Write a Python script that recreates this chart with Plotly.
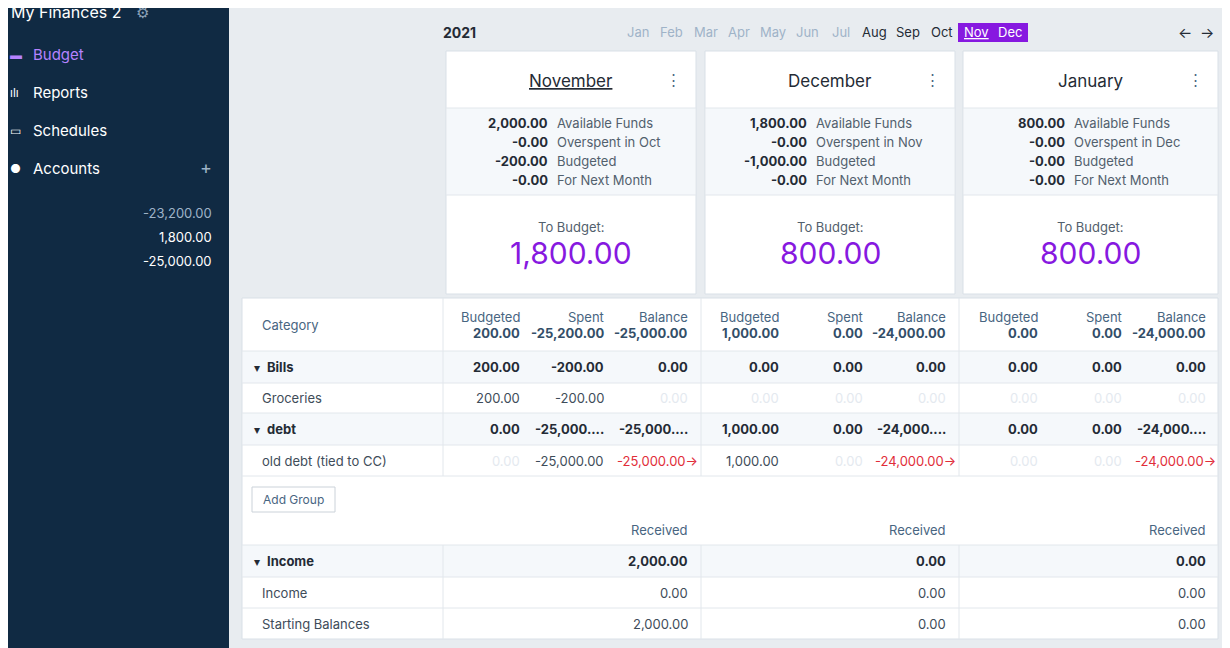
import plotly.graph_objects as go

# ---- data ----
budget_name = "My Finances 2"
nav_items = ["Budget", "Reports", "Schedules", "Accounts"]
account_names = ["For budget", "checking", "Credit Card"]
account_balances = ["-23,200.00", "1,800.00", "-25,000.00"]

year = "2021"
nav_months = ["Jan", "Feb", "Mar", "Apr", "May", "Jun", "Jul", "Aug", "Sep", "Oct", "Nov", "Dec"]

months = ["November", "December", "January"]
available_funds = ["2,000.00", "1,800.00", "800.00"]
overspent_prev = ["Oct", "Nov", "Dec"]
overspent = ["-0.00", "-0.00", "-0.00"]
budgeted_total = ["-200.00", "-1,000.00", "-0.00"]
for_next = ["-0.00", "-0.00", "-0.00"]
to_budget = ["1,800.00", "800.00", "800.00"]

head_budgeted = ["200.00", "1,000.00", "0.00"]
head_spent = ["-25,200.00", "0.00", "0.00"]
head_balance = ["-25,000.00", "-24,000.00", "-24,000.00"]

rows = ["Bills", "Groceries", "debt", "old debt (tied to CC)"]
row_is_group = [True, False, True, False]
row_budgeted = [["200.00", "200.00", "0.00", "0.00"],
                ["0.00", "0.00", "1,000.00", "1,000.00"],
                ["0.00", "0.00", "0.00", "0.00"]]
row_spent = [["-200.00", "-200.00", "-25,000....", "-25,000.00"],
             ["0.00", "0.00", "0.00", "0.00"],
             ["0.00", "0.00", "0.00", "0.00"]]
row_balance = [["0.00", "0.00", "-25,000....", "-25,000.00"],
               ["0.00", "0.00", "-24,000....", "-24,000.00"],
               ["0.00", "0.00", "-24,000....", "-24,000.00"]]

income_rows = ["Income", "Income", "Starting Balances"]
income_received = [["2,000.00", "0.00", "2,000.00"],
                   ["0.00", "0.00", "0.00"],
                   ["0.00", "0.00", "0.00"]]

# ---- styles ----
FONT = "Inter, Noto Sans, sans-serif"
SIDEBAR = "#102a43"
BG = "#e8ecf0"
DARK = "#242b35"
LABEL = "#486581"
FAINT = "#e4e9ef"
PURPLE = "#8719e0"
RED = "#e12d39"
BAND = "#f5f8fb"
LINE = "#e2e7ec"

# the page puts the plot 8px in from the top-left, so the axes are shifted by that much
OFF = 8

fig = go.Figure()
shapes = []
ann = []


def rect(x0, y0, x1, y1, fill, line=None):
    shapes.append(dict(type="rect", x0=x0, y0=y0, x1=x1, y1=y1, fillcolor=fill,
                       line=dict(color=line or fill, width=1 if line else 0), layer="below"))


def hline(x0, x1, y, color=LINE):
    shapes.append(dict(type="line", x0=x0, x1=x1, y0=y, y1=y, line=dict(color=color, width=1)))


def vline(x, y0, y1, color=LINE):
    shapes.append(dict(type="line", x0=x, x1=x, y0=y0, y1=y1, line=dict(color=color, width=1)))


def text(x, y, s, size=13, color=DARK, anchor="left", bold=False):
    if bold:
        s = "<b>" + s + "</b>"
    ann.append(dict(x=x, y=y, text=s, showarrow=False, xanchor=anchor, yanchor="middle",
                    font=dict(family=FONT, size=size, color=color)))


# background + sidebar
rect(0, 0, 1240, 660, BG)
rect(0, 0, 229, 660, SIDEBAR)
text(9, 12, budget_name, 16, "white")
text(134, 12, "⚙", 15, "#8da2b8")
nav_y = [54, 92, 130, 168]
nav_icons = ["▬", "ılı", "▭", "●"]
for i, name in enumerate(nav_items):
    col = "#b583ff" if i == 0 else "white"
    text(8, nav_y[i], nav_icons[i], 12, col)
    text(31, nav_y[i], name, 15, col)
text(214, 167, "+", 18, "#9fb3c8", "right")
acc_y = [213, 237, 261]
for i, name in enumerate(account_names):
    col = "#9fb3c8" if i == 0 else "white"
    text(3, acc_y[i], name, 13, col)
    text(214, acc_y[i], account_balances[i], 13, col, "right")

# month navigation
text(459, 32, year, 14, DARK, "center", True)
for i, m in enumerate(nav_months):
    x = 638 + i * 33.8
    if m in ("Nov", "Dec"):
        col = "white"
    elif m in ("Aug", "Sep", "Oct"):
        col = DARK
    else:
        col = "#9fb3c8"
    if m == "Nov":
        rect(x - 18, 23, x + 52, 42, PURPLE)
        s = "<u>" + m + "</u>"
    else:
        s = m
    text(x, 32, s, 13, col, "center")
text(1185, 32, "←", 15, DARK, "center")
text(1207, 32, "→", 15, DARK, "center")

# month cards
card_x = [(446, 696), (705, 955), (963, 1218)]
for k, (x0, x1) in enumerate(card_x):
    rect(x0, 51, x1, 294, "white", "#d9e0e7")
    rect(x0 + 1, 108, x1 - 1, 195, BAND)
    hline(x0, x1, 108)
    hline(x0, x1, 195)
    cx = (x0 + x1) / 2
    title = "<u>" + months[k] + "</u>" if k == 0 else months[k]
    text(cx, 81, title, 17, DARK, "center")
    text(x1 - 23, 79, "⋮", 15, LABEL, "center")
    vals = [available_funds[k], overspent[k], budgeted_total[k], for_next[k]]
    labs = ["Available Funds", "Overspent in " + overspent_prev[k], "Budgeted", "For Next Month"]
    for j in range(4):
        y = 123 + j * 19
        text(x0 + 104, y, vals[j], 13, DARK, "right", True)
        text(x0 + 109, y, labs[j], 13, "#52606d")
    text(cx, 227, "To Budget:", 13, "#52606d", "center")
    text(cx, 253, to_budget[k], 30, PURPLE, "center")

# budget table
rect(242, 298, 1218, 639, "white", "#d9e0e7")
row_top = [351, 383, 413, 445]
row_bot = [383, 413, 445, 476]
for i in range(4):
    if row_is_group[i]:
        rect(243, row_top[i], 1217, row_bot[i], BAND)
for y in [351, 383, 413, 445, 476]:
    hline(242, 1218, y)
col_div = [443, 701, 959]
for x in col_div:
    vline(x, 298, 476)
text(260, 325, "Category", 13, LABEL)
col_right = [[522, 606, 690], [781, 865, 948], [1040, 1124, 1208]]
for k in range(3):
    bx, sx, lx = col_right[k]
    text(bx, 317, "Budgeted", 13, LABEL, "right")
    text(sx, 317, "Spent", 13, LABEL, "right")
    text(lx, 317, "Balance", 13, LABEL, "right")
    text(bx, 333, head_budgeted[k], 13, "#334e68", "right", True)
    text(sx, 333, head_spent[k], 13, "#334e68", "right", True)
    text(lx, 333, head_balance[k], 13, "#334e68", "right", True)
for i, name in enumerate(rows):
    y = (row_top[i] + row_bot[i]) / 2
    g = row_is_group[i]
    if g:
        text(252, y, "▾", 12, DARK)
        text(265, y, name, 13, DARK, bold=True)
    else:
        text(260, y, name, 13, "#3e4c59")
    for k in range(3):
        bx, sx, lx = col_right[k]
        for val, x, kind in [(row_budgeted[k][i], bx, "b"), (row_spent[k][i], sx, "s"),
                             (row_balance[k][i], lx, "l")]:
            if g:
                text(x, y, val, 13, DARK, "right", True)
                continue
            col = "#3e4c59"
            if val in ("0.00", "-0.00"):
                col = FAINT
            if kind == "l" and val.startswith("-") and val != "-0.00":
                col = RED
                val = val + "→"
                x = x + 10
            text(x, y, val, 13, col, "right")

# add group button
shapes.append(dict(type="rect", x0=252, y0=487, x1=335, y1=512, fillcolor="white",
                   line=dict(color="#cbd2d9", width=1)))
text(293.5, 499.5, "Add Group", 12, LABEL, "center")

# income section
for k in range(3):
    text(col_right[k][2], 530, "Received", 13, LABEL, "right")
inc_top = [545, 577, 608]
inc_bot = [577, 608, 639]
rect(243, 545, 1217, 577, BAND)
for y in [545, 577, 608]:
    hline(242, 1218, y)
for x in col_div:
    vline(x, 545, 639)
for i, name in enumerate(income_rows):
    y = (inc_top[i] + inc_bot[i]) / 2
    if i == 0:
        text(252, y, "▾", 12, DARK)
        text(265, y, name, 13, DARK, bold=True)
    else:
        text(260, y, name, 13, "#3e4c59")
    for k in range(3):
        text(col_right[k][2], y, income_received[k][i], 13,
             DARK if i == 0 else "#3e4c59", "right", i == 0)

fig.update_layout(
    width=1230, height=648, margin=dict(l=0, r=0, t=0, b=0),
    paper_bgcolor=BG, plot_bgcolor=BG, showlegend=False,
    xaxis=dict(range=[OFF, 1230 + OFF], visible=False, fixedrange=True),
    yaxis=dict(range=[648 + OFF, OFF], visible=False, fixedrange=True),
    shapes=shapes, annotations=ann,
)
fig.write_html("out.html", config={"displayModeBar": False})
